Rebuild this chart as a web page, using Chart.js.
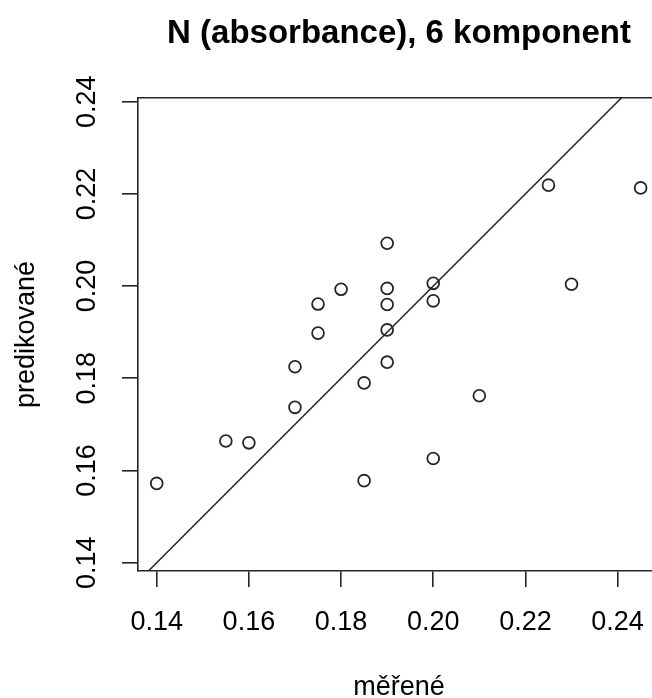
<!DOCTYPE html>
<html><head><meta charset="utf-8">
<script src="https://cdn.jsdelivr.net/npm/chart.js@4"></script>
<style>
html,body{margin:0;padding:0;background:#fff;overflow:hidden;width:652px;height:698px}
#wrap{width:670px;height:698px}
</style></head>
<body><div id="wrap"><canvas id="c" width="670" height="698"></canvas></div>
<script>
const titleText = 'N (absorbance), 6 komponent';
const xTitle = 'měřené';
const yTitle = 'predikované';
const measured  = [0.14, 0.155, 0.16, 0.17, 0.17, 0.175, 0.175, 0.18, 0.185, 0.185, 0.19, 0.19, 0.19, 0.19, 0.19, 0.20, 0.20, 0.20, 0.21, 0.225, 0.23, 0.245];
const predicted = [0.1572, 0.1664, 0.1660, 0.1825, 0.1737, 0.1961, 0.1898, 0.1993, 0.1790, 0.1578, 0.2093, 0.1995, 0.1960, 0.1905, 0.1835, 0.2006, 0.1968, 0.1626, 0.1762, 0.2219, 0.2004, 0.2213];
const tickValues = [0.14, 0.16, 0.18, 0.20, 0.22, 0.24];
const tickLabels = ['0.14', '0.16', '0.18', '0.20', '0.22', '0.24'];
const refLine = [0.13, 0.25];   // y = x
const xRange = [0.13594, 0.2492];
const yRange = [0.1382, 0.2408];

const FONT = 'Liberation Sans, Arial, Helvetica, sans-serif';
const INK = '#262626';

const points = measured.map((m, i) => ({x: m, y: predicted[i]}));
const linePts = refLine.map(v => ({x: v, y: v}));
const setTicks = s => { s.ticks = tickValues.map(v => ({value: v})); };
const labelFor = v => { const i = tickValues.findIndex(t => Math.abs(t - v) < 1e-9); return i >= 0 ? tickLabels[i] : ''; };

new Chart(document.getElementById('c'), {
  type: 'scatter',
  data: {
    datasets: [
      {
        type: 'line', data: linePts, borderColor: INK, borderWidth: 1.5,
        pointRadius: 0, fill: false, xAxisID: 'x', yAxisID: 'y', order: 1
      },
      {
        data: points, pointStyle: 'circle', pointRadius: 5.9, pointBorderWidth: 1.8,
        borderColor: INK, backgroundColor: 'rgba(0,0,0,0)', xAxisID: 'x', yAxisID: 'y', order: 0
      }
    ]
  },
  options: {
    responsive: false, animation: false, devicePixelRatio: 1,
    layout: {padding: {top: 0, left: 0, bottom: 0, right: 10}},
    plugins: {
      legend: {display: false}, tooltip: {enabled: false},
      title: {
        display: true, text: titleText, fullSize: false, color: '#000',
        font: {family: FONT, size: 33, weight: 'bold', lineHeight: 1.2},
        padding: {top: 14, bottom: 44.4}
      }
    },
    scales: {
      x: {
        type: 'linear', position: 'bottom', min: xRange[0], max: xRange[1],
        afterBuildTicks: setTicks,
        afterFit: s => { s.height = 127; },
        grid: {display: true, drawOnChartArea: false, drawTicks: true, tickLength: 16, color: INK, lineWidth: 1.6},
        border: {display: true, color: INK, width: 1.6},
        ticks: {callback: v => labelFor(v), color: '#000', padding: 19, autoSkip: false, maxRotation: 0,
                font: {family: FONT, size: 27, lineHeight: 1.2}},
        title: {display: true, text: xTitle, color: '#000', padding: 0,
                font: {family: FONT, size: 27, lineHeight: 0.8}}
      },
      x2: {
        type: 'linear', position: 'top', min: xRange[0], max: xRange[1],
        afterFit: s => { s.height = 0; },
        grid: {display: false, drawTicks: false},
        border: {display: true, color: INK, width: 1.6},
        ticks: {display: false}
      },
      y: {
        type: 'linear', position: 'left', min: yRange[0], max: yRange[1],
        afterBuildTicks: setTicks,
        afterFit: s => { s.width = 138; },
        grid: {display: true, drawOnChartArea: false, drawTicks: true, tickLength: 16, color: INK, lineWidth: 1.6},
        border: {display: true, color: INK, width: 1.6},
        ticks: {callback: v => labelFor(v), color: '#000', padding: 8, autoSkip: false,
                minRotation: 90, maxRotation: 90, crossAlign: 'center',
                font: {family: FONT, size: 27, lineHeight: 1.2}},
        title: {display: true, text: yTitle, color: '#000', padding: {top: 10, bottom: 0},
                font: {family: FONT, size: 27, lineHeight: 1.2}}
      }
    }
  }
});
</script>
</body></html>
